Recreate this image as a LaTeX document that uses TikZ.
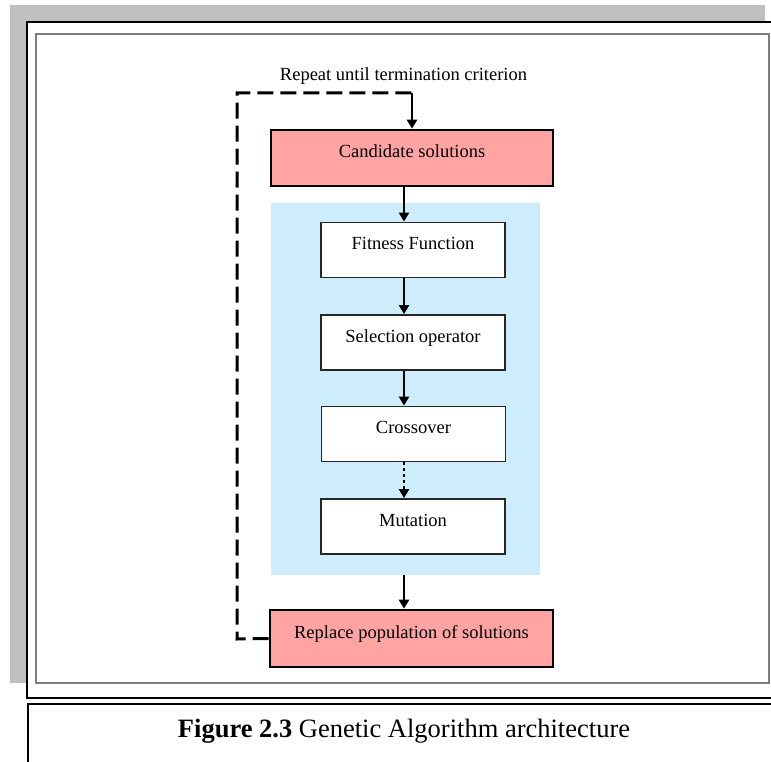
\documentclass[tikz,border=0pt]{standalone}
\usepackage{fontspec}
\setmainfont{Liberation Serif}
\usetikzlibrary{arrows.meta}

\definecolor{framegray}{RGB}{192,192,192}
\definecolor{edgegray}{RGB}{125,125,125}
\definecolor{solpink}{RGB}{255,163,163}
\definecolor{opblue}{RGB}{205,236,252}

\tikzset{
  labelfont/.style={font=\fontsize{18.5}{20}\selectfont},
  stepbox/.style={labelfont, draw=black!85, line width=1.8pt, fill=white,
    minimum width=184pt, minimum height=55pt, inner sep=0pt,
    text height=12pt, text depth=13pt},
  popbox/.style={stepbox, draw=black, line width=2.6pt, fill=solpink,
    minimum width=282pt, minimum height=56pt},
  flow/.style={line width=2.8pt, -{Triangle[width=10pt,length=9pt]}},
  dottedflow/.style={flow, dash pattern=on 3pt off 3pt},
  repeatline/.style={line width=3pt, dash pattern=on 16pt off 7pt},
}

\begin{document}
\begin{tikzpicture}[x=1pt, y=-1pt]
  \useasboundingbox (0,0) rectangle (771,762);
  \clip (0,0) rectangle (771,762);
  \fill[white] (0,0) rectangle (771,762);

  % page frames
  \fill[framegray] (10,5) rectangle (765,683);
  \draw[line width=1.6pt, fill=white] (27,22) rectangle (790,698);
  \draw[edgegray, line width=2.2pt] (36,34) rectangle (769,683);
  \draw[line width=1.6pt] (28,704) rectangle (790,800);

  % caption
  \node[anchor=base, font=\fontsize{26.5}{28}\selectfont, inner sep=0pt] (caption)
    at (404,737) {\textbf{Figure 2.3} Genetic Algorithm architecture};

  % operator area
  \node[fill=opblue, minimum width=269pt, minimum height=372pt, inner sep=0pt,
        anchor=north west] (ops) at (271,203) {};

  % flow boxes
  \node[popbox] (cand) at (412,158) {Candidate solutions};
  \node[stepbox] (fit) at (413,250) {Fitness Function};
  \node[stepbox] (sel) at (413,342.5) {Selection operator};
  \node[stepbox] (cross) at (413.5,434) {Crossover};
  \node[stepbox] (mut) at (413,526.5) {Mutation};
  \node[popbox, minimum width=283pt, minimum height=57pt] (repl) at (411.5,638.5)
    {Replace population of solutions};

  % repeat label
  \node[labelfont, anchor=base, inner sep=0pt] (repeat) at (403.5,81)
    {Repeat until termination criterion};

  % connectors
  \coordinate (col) at (404,0);
  \draw[flow] (cand.south -| col) -- (fit.north -| col);
  \draw[flow] (fit.south -| col) -- (sel.north -| col);
  \draw[flow] (sel.south -| col) -- (cross.north -| col);
  \draw[dottedflow] (cross.south -| col) -- (mut.north -| col);
  \draw[flow] (ops.south -| col) -- (repl.north -| col);

  % repeat loop
  \coordinate (loopbottom) at (237,639);
  \coordinate (loopleft) at (237,93);
  \coordinate (looptop) at (412,93);
  \draw[repeatline] (repl.west) -- (loopbottom) -- (loopleft) -- (looptop);
  \draw[flow] (looptop) -- (cand.north -| looptop);
\end{tikzpicture}
\end{document}
